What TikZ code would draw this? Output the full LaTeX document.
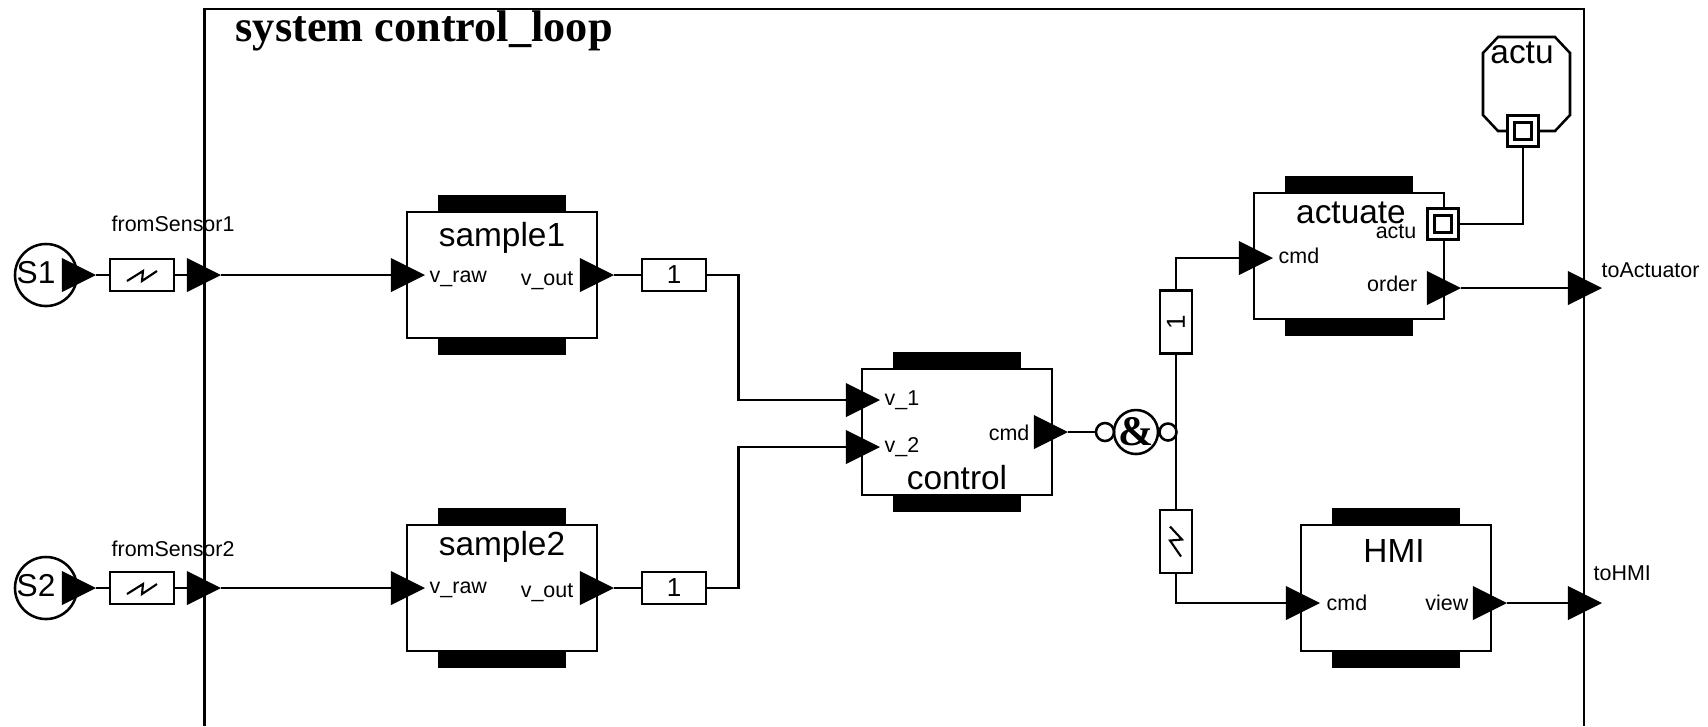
\documentclass[tikz,border=0pt]{standalone}
\usepackage{fontspec}
\setmainfont{Liberation Sans}
\newfontfamily\serifbold[Ligatures=TeX]{Liberation Serif Bold}
\usetikzlibrary{shapes.geometric}
\tikzset{
  wire/.style={line width=0.72pt},
  block/.style={draw, line width=0.72pt, fill=white, minimum width=1.9cm, minimum height=1.26cm, inner sep=0pt},
  chan/.style={draw, line width=0.72pt, fill=white, minimum width=0.64cm, minimum height=0.32cm, inner sep=0pt},
  vchan/.style={draw, line width=0.72pt, fill=white, minimum width=0.32cm, minimum height=0.63cm, inner sep=0pt},
  port/.style={isosceles triangle, isosceles triangle stretches, fill=black, inner sep=0pt, outer sep=0pt, minimum width=0.34cm, minimum height=0.34cm, anchor=apex},
  accport/.style={draw, line width=0.72pt, fill=white, minimum size=0.31cm, inner sep=0pt},
  accin/.style={draw, line width=0.72pt, minimum size=0.165cm, inner sep=0pt},
  big/.style={font=\fontsize{9.5}{11}\selectfont, inner sep=0pt},
  small/.style={font=\fontsize{6.1}{7}\selectfont, inner sep=0pt},
}
\begin{document}
\begin{tikzpicture}[x=0.01cm, y=-0.01cm]
\useasboundingbox (0,0) rectangle (1708,726);
\draw[wire] (204.5,726) -- (204.5,9) -- (1584,9) -- (1584,726);
\node[font=\serifbold\fontsize{12.6}{14}\selectfont, anchor=west, inner sep=0pt] (title) at (235,31) {system control\_loop};
% sensors
\node[draw, wire, circle, fill=white, minimum size=0.62cm, inner sep=0pt] (S1) at (46,275) {};
\node[draw, wire, circle, fill=white, minimum size=0.62cm, inner sep=0pt] (S2) at (46,588) {};
\node[big, anchor=west, font=\fontsize{9}{11}\selectfont] (S1txt) at (16,273) {S1};
\node[big, anchor=west, font=\fontsize{9}{11}\selectfont] (S2txt) at (16,586) {S2};
\node[port] (S1out) at (96,275) {};
\node[port] (S2out) at (96,588) {};
\node[chan] (fs1) at (142,275) {};
\node[chan] (fs2) at (142,588) {};
\node[port] (in1) at (221,275) {};
\node[port] (in2) at (221,588) {};
\node[small, anchor=west] (fs1txt) at (111,224) {fromSensor1};
\node[small, anchor=west] (fs2txt) at (111,549) {fromSensor2};
\draw[wire] (S1out.apex) -- (fs1.west);
\draw[wire] (S2out.apex) -- (fs2.west);
\draw[wire] (fs1.east) -- (in1.west);
\draw[wire] (fs2.east) -- (in2.west);
\foreach \ch in {fs1,fs2}
  \draw[line width=0.6pt] ([shift={(-15,6)}]\ch.center) -- ([shift={(1,-4)}]\ch.center) -- ([shift={(0,6)}]\ch.center) -- ([shift={(15,-4)}]\ch.center);
% blocks
\node[block] (sample1) at (502,275) {};
\node[block] (sample2) at (502,588) {};
\node[block] (control) at (957,432) {};
\node[block] (actuate) at (1349,256) {};
\node[block] (HMI) at (1396,588) {};
\foreach \blk in {sample1,sample2,control,actuate,HMI} {
  \fill ([xshift=-0.64cm]\blk.north) rectangle ([xshift=0.64cm,yshift=0.16cm]\blk.north);
  \fill ([xshift=-0.64cm]\blk.south) rectangle ([xshift=0.64cm,yshift=-0.16cm]\blk.south);
}
\node[big] (sample1txt) at (502,238) {sample1};
\node[big] (sample2txt) at (502,547) {sample2};
\node[big] (controltxt) at (957,478) {control};
\node[big] (actuatetxt) at (1351,213) {actuate};
\node[big] (HMItxt) at (1394,551) {HMI};
% ports of the blocks
\node[port] (raw1) at (425,275) {};
\node[port] (raw2) at (425,588) {};
\node[port] (vout1) at (614,275) {};
\node[port] (vout2) at (614,588) {};
\node[port] (v1) at (880,400) {};
\node[port] (v2) at (880,447) {};
\node[port] (ccmd) at (1068,432) {};
\node[port] (acmd) at (1273,258) {};
\node[port] (order) at (1461,288) {};
\node[port] (hcmd) at (1320,603) {};
\node[port] (view) at (1507,603) {};
\node[port] (toA) at (1602,288) {};
\node[port] (toH) at (1602,603) {};
\node[small, anchor=west] (rawtxt1) at (429,279) {v\_raw};
\node[small, anchor=west] (rawtxt2) at (429,590) {v\_raw};
\node[small, anchor=east] (outtxt1) at (574,281) {v\_out};
\node[small, anchor=east] (outtxt2) at (574,593) {v\_out};
\node[small, anchor=west] (v1txt) at (884,400) {v\_1};
\node[small, anchor=west] (v2txt) at (884,447) {v\_2};
\node[small, anchor=east] (ccmdtxt) at (1030,433) {cmd};
\node[small, anchor=west] (acmdtxt) at (1278,256) {cmd};
\node[small, anchor=east] (ordertxt) at (1418,284) {order};
\node[small, anchor=east] (actutxt) at (1417,232) {actu};
\node[small, anchor=west] (hcmdtxt) at (1326,603) {cmd};
\node[small, anchor=east] (viewtxt) at (1469,603) {view};
\node[small, anchor=west] (toAtxt) at (1601,270) {toActuator};
\node[small, anchor=west] (toHtxt) at (1593,573) {toHMI};
% channels to control
\node[chan] (c1) at (674,275) {};
\node[chan] (c2) at (674,588) {};
\node[big] (c1txt) at (674,275) {\fontsize{7.4}{8}\selectfont 1};
\node[big] (c2txt) at (674,588) {\fontsize{7.4}{8}\selectfont 1};
\coordinate (bend1) at (738.5,400);
\coordinate (bend2) at (738.5,447);
\draw[wire] (in1.apex) -- (raw1.west);
\draw[wire] (in2.apex) -- (raw2.west);
\draw[wire] (vout1.apex) -- (c1.west);
\draw[wire] (vout2.apex) -- (c2.west);
\draw[wire] (c1.east) -| (bend1) -- (v1.west);
\draw[wire] (c2.east) -| (bend2) -- (v2.west);
% and gate
\node[draw, wire, circle, minimum size=0.18cm, inner sep=0pt] (andin) at (1105,432) {};
\node[draw, wire, circle, minimum size=0.44cm, inner sep=0pt] (and) at (1136,432) {};
\node[draw, wire, circle, minimum size=0.17cm, inner sep=0pt] (andout) at (1168,432) {};
\node[font=\serifbold\fontsize{12}{14}\selectfont, inner sep=0pt] (andtxt) at (1136,432) {\&};
\draw[wire] (ccmd.apex) -- (andin.west);
\node[vchan] (c3) at (1176,322) {};
\node[vchan] (c4) at (1176,541.5) {};
\node[big, rotate=90] (c3txt) at (1176,322) {\fontsize{7.4}{8}\selectfont 1};
\draw[line width=0.6pt] ([shift={(-6,-15)}]c4.center) -- ([shift={(6,-2)}]c4.center) -- ([shift={(-6,-1)}]c4.center) -- ([shift={(5,15)}]c4.center);
\draw[wire] (c3.south) -- (c4.north);
\draw[wire] (c3.north) |- (acmd.west);
\draw[wire] (c4.south) |- (hcmd.west);
\draw[wire] (order.apex) -- (toA.west);
\draw[wire] (view.apex) -- (toH.west);
% actu
\draw[wire, fill=white] (1483,53) -- (1498,37) -- (1555,37) -- (1570,53) -- (1570,115) -- (1555,131) -- (1498,131) -- (1483,115) -- cycle;
\node[big] (actutop) at (1522,53) {actu};
\node[accport] (acc1) at (1523,131) {};
\node[accin] (acc1in) at (1523,131) {};
\node[accport] (acc2) at (1443,224) {};
\node[accin] (acc2in) at (1443,224) {};
\draw[wire] (acc1.south) |- (acc2.east);
\end{tikzpicture}
\end{document}
